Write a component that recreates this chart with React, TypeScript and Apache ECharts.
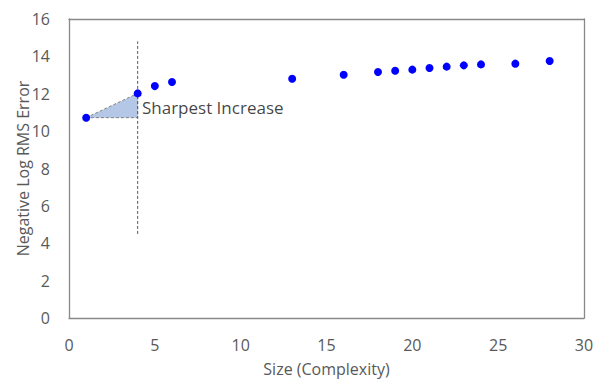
import React, { useEffect, useRef } from "react";
import * as echarts from "echarts";

const sizes = [1, 4, 5, 6, 13, 16, 18, 19, 20, 21, 22, 23, 24, 26, 28];
const errors = [10.72, 12.02, 12.41, 12.63, 12.8, 13.02, 13.16, 13.23, 13.29, 13.38, 13.45, 13.52, 13.57, 13.61, 13.75];
const triangleX = [1, 4, 4];
const triangleY = [10.72, 12.02, 10.72];
const vLineX = [4, 4];
const vLineY = [4.5, 14.8];
const annotation = "Sharpest Increase";
const labelPos = [4.25, 11.25];

export default function App() {
  const ref = useRef<HTMLDivElement>(null);
  useEffect(() => {
    const chart = echarts.init(ref.current!, null, { renderer: "svg" });
    const font = "Open Sans, Noto Sans, sans-serif";
    const tri = triangleX.map((x, i) => [x, triangleY[i]]);
    const frame = { show: true, onZero: false, lineStyle: { color: "#898989", width: 1.3 } };
    chart.setOption({
      animation: false,
      backgroundColor: "#ffffff",
      grid: { left: 69, right: 16, top: 19, bottom: 68, containLabel: false, outerBoundsMode: "none" },
      xAxis: [
        {
          type: "value", min: 0, max: 30, interval: 5,
          name: "Size (Complexity)", nameLocation: "middle", nameGap: 43, nameMoveOverlap: false,
          nameTextStyle: { color: "#595959", fontSize: 16, fontFamily: font },
          axisLine: frame,
          axisTick: { show: false },
          splitLine: { show: false },
          axisLabel: { color: "#595959", fontSize: 16, fontFamily: font, margin: 19 },
        },
        {
          type: "value", min: 0, max: 30, position: "top",
          axisLine: frame, axisTick: { show: false }, splitLine: { show: false }, axisLabel: { show: false },
        },
      ],
      yAxis: [
        {
          type: "value", min: 0, max: 16, interval: 2,
          name: "Negative Log RMS Error", nameLocation: "middle", nameGap: 38, nameMoveOverlap: false,
          nameTextStyle: { color: "#595959", fontSize: 16, fontFamily: font },
          axisLine: frame,
          axisTick: { show: false },
          splitLine: { show: false },
          axisLabel: { color: "#595959", fontSize: 16, fontFamily: font, margin: 19 },
        },
        {
          type: "value", min: 0, max: 16, position: "right",
          axisLine: frame, axisTick: { show: false }, splitLine: { show: false }, axisLabel: { show: false },
        },
      ],
      series: [
        {
          type: "custom",
          data: [0],
          renderItem: (params: any, api: any) => {
            const pts = tri.map((p) => api.coord(p));
            return {
              type: "polygon",
              shape: { points: pts },
              style: { fill: "#b4c7e7", stroke: "#7f7f7f", lineWidth: 1, lineDash: [3, 2] },
            };
          },
          z: 1,
        },
        {
          type: "line",
          data: vLineX.map((x, i) => [x, vLineY[i]]),
          symbol: "none",
          lineStyle: { color: "#595959", width: 1, type: [3, 2] },
          z: 2,
        },
        {
          type: "scatter",
          data: sizes.map((x, i) => [x, errors[i]]),
          symbolSize: 8,
          itemStyle: { color: "#0000ff", opacity: 1 },
          z: 3,
        },
        {
          type: "scatter",
          data: [labelPos],
          symbolSize: 0,
          label: {
            show: true, position: "right", distance: 0,
            formatter: annotation, color: "#111111", fontSize: 17, fontFamily: font,
          },
          z: 4,
        },
      ],
    });
    return () => chart.dispose();
  }, []);
  return <div ref={ref} style={{ width: 600, height: 386, position: "absolute", left: 0, top: 0 }} />;
}
